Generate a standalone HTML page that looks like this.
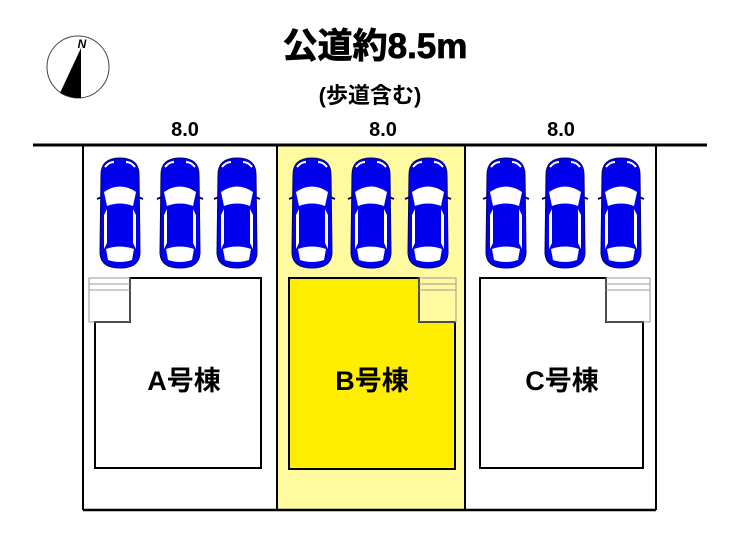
<!DOCTYPE html>
<html><head><meta charset="utf-8"><style>
body{margin:0;background:#fff}
svg text{font-family:"Liberation Sans","Noto Sans CJK JP",sans-serif;font-weight:bold}
</style></head><body>
<svg width="740" height="537" viewBox="0 0 740 537" xmlns="http://www.w3.org/2000/svg">
<defs>
<g id="car">
<path d="M4 18 Q4 1 23 1 Q42 1 42 18 L43 95 Q43 111 23 111 Q3 111 3 95 Z" fill="#0000ee" stroke="#000066" stroke-width="1"/>
<path d="M7 35 Q23 24 39 35 L36 49 Q23 44 10 49 Z" fill="#fff"/>
<path d="M7 58 L10 52 L10 86 L7 92 Z M39 58 L36 52 L36 86 L39 92 Z" fill="#fff"/>
<path d="M9 92 Q23 87 37 92 L35 103 Q23 107 11 103 Z" fill="#fff"/>
<path d="M8 10 Q12 5 17 5" stroke="#fff" stroke-width="2" fill="none"/>
<path d="M38 10 Q34 5 29 5" stroke="#fff" stroke-width="2" fill="none"/>
<path d="M0 42 L5 40 M46 42 L41 40" stroke="#000066" stroke-width="2"/>
</g>
</defs>
<circle cx="78" cy="67" r="31" fill="#fff" stroke="#444" stroke-width="1"/>
<path d="M81 48 L81 98 Q70 98 60 93 Z" fill="#000"/>
<text x="82" y="48" font-size="12" text-anchor="middle" font-family="Liberation Serif" font-style="italic">N</text>
<text x="375" y="58" font-size="35" text-anchor="middle" stroke="#000" stroke-width="0.8">公道約8.5m</text>
<text x="370" y="103" font-size="22" text-anchor="middle">(歩道含む)</text>
<text x="185" y="136" font-size="20" text-anchor="middle">8.0</text>
<text x="383" y="136" font-size="20" text-anchor="middle">8.0</text>
<text x="561" y="136" font-size="20" text-anchor="middle">8.0</text>
<rect x="278" y="146" width="187" height="364" fill="#fffaa0"/>
<line x1="33" y1="145" x2="707" y2="145" stroke="#000" stroke-width="3"/>
<g stroke="#000" stroke-width="2" fill="none">
<line x1="83" y1="145" x2="83" y2="510"/>
<line x1="277" y1="145" x2="277" y2="511"/>
<line x1="465" y1="145" x2="465" y2="511"/>
<line x1="656" y1="145" x2="656" y2="510"/>
<line x1="83" y1="510" x2="656" y2="510" stroke-width="2.5"/>
</g>
<use href="#car" x="97" y="157"/><use href="#car" x="157" y="157"/><use href="#car" x="214" y="157"/>
<use href="#car" x="289" y="157"/><use href="#car" x="348" y="157"/><use href="#car" x="405" y="157"/>
<use href="#car" x="483" y="157"/><use href="#car" x="542" y="157"/><use href="#car" x="598" y="157"/>
<path d="M130 278 L261 278 L261 468 L95 468 L95 322 L130 322 Z" fill="#fff" stroke="#000" stroke-width="2"/>
<g stroke="#999" stroke-width="1" fill="none"><rect x="89" y="278" width="41" height="44"/><line x1="89" y1="284" x2="130" y2="284"/><line x1="89" y1="290" x2="130" y2="290"/></g>
<path d="M289 278 L419 278 L419 322 L455 322 L455 469 L289 469 Z" fill="#ffee00" stroke="#000" stroke-width="2"/>
<g stroke="#999" stroke-width="1" fill="none"><rect x="419" y="278" width="37" height="44"/><line x1="419" y1="284" x2="456" y2="284"/><line x1="419" y1="290" x2="456" y2="290"/></g>
<path d="M480 278 L606 278 L606 322 L643 322 L643 468 L480 468 Z" fill="#fff" stroke="#000" stroke-width="2"/>
<g stroke="#999" stroke-width="1" fill="none"><rect x="606" y="278" width="44" height="44"/><line x1="606" y1="284" x2="650" y2="284"/><line x1="606" y1="290" x2="650" y2="290"/></g>
<text x="184" y="390" font-size="27" text-anchor="middle">A号棟</text>
<text x="372" y="390" font-size="27" text-anchor="middle">B号棟</text>
<text x="562" y="390" font-size="27" text-anchor="middle">C号棟</text>
</svg>
</body></html>
